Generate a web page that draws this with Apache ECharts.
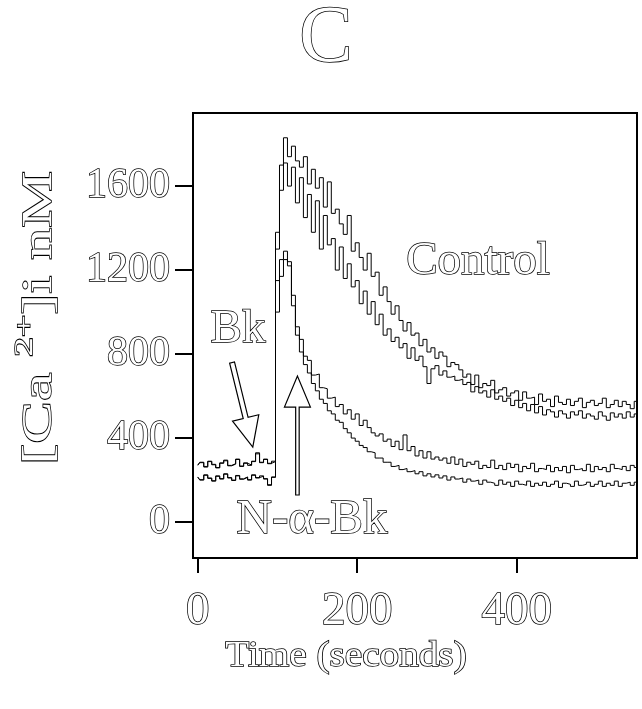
<!DOCTYPE html>
<html>
<head>
<meta charset="utf-8">
<script src="https://cdn.jsdelivr.net/npm/echarts@6/dist/echarts.min.js"></script>
<style>
html, body { margin: 0; padding: 0; background: #fff; }
#chart { width: 642px; height: 709px; }
</style>
</head>
<body>
<div id="chart"></div>
<script>
// Sampling times (s)
const seconds = [
  0, 5, 10, 15, 20, 25, 30, 35, 40, 45, 50, 55, 60, 65, 70, 75, 80, 85, 90, 95,
  100, 105, 110, 115, 120, 125, 130, 135, 140, 145, 150, 155, 160, 165, 170, 175, 180, 185, 190, 195,
  200, 205, 210, 215, 220, 225, 230, 235, 240, 245, 250, 255, 260, 265, 270, 275, 280, 285, 290, 295,
  300, 305, 310, 315, 320, 325, 330, 335, 340, 345, 350, 355, 360, 365, 370, 375, 380, 385, 390, 395,
  400, 405, 410, 415, 420, 425, 430, 435, 440, 445, 450, 455, 460, 465, 470, 475, 480, 485, 490, 495,
  500, 505, 510, 515, 520, 525, 530, 535, 540, 545, 550
];

// [Ca2+]i (nM), Bk alone (control), two recordings
const control1 = [
  270, 285, 262, 290, 275, 258, 280, 295, 268, 276, 300, 265, 282, 270, 290, 330, 285, 300, 278, 290,
  1380, 1700, 1830, 1740, 1790, 1720, 1690, 1740, 1610, 1680, 1590, 1640, 1500, 1620, 1470, 1490, 1420, 1370, 1460, 1290,
  1330, 1260, 1200, 1280, 1170, 1190, 1080, 1120, 1050, 990, 1030, 960, 910, 950, 890, 900, 840, 870, 810, 830,
  780, 810, 790, 740, 760, 750, 725, 690, 705, 655, 700, 640, 660, 650, 675, 615, 630, 640, 600, 615,
  625, 580, 620, 590, 595, 560, 610, 575, 585, 550, 600, 570, 560, 585, 555, 575, 590, 545, 570, 580,
  555, 565, 590, 545, 560, 580, 550, 575, 560, 540, 575
];
const control2 = [
  215, 200, 225, 210, 195, 220, 205, 230, 210, 198, 222, 206, 215, 200, 225, 210, 220, 205, 175, 215,
  1300, 1580, 1710, 1600, 1690, 1520, 1640, 1450, 1560, 1380, 1530, 1300, 1460, 1320, 1350, 1200, 1310, 1160, 1230, 1120,
  1150, 1040, 1100, 990, 1050, 940, 990, 890, 920, 860, 880, 830, 850, 780, 830, 770, 790, 740, 660, 730,
  745, 700, 720, 690, 695, 675, 680, 655, 665, 620, 645, 615, 625, 595, 630, 585, 600, 575, 590, 555,
  580, 545, 565, 530, 560, 520, 550, 510, 535, 525, 500, 530, 515, 495, 525, 510, 530, 495, 515, 505,
  490, 525, 505, 485, 520, 500, 515, 495, 525, 500, 515
];

// [Ca2+]i (nM), Bk followed by N-alpha-Bk, two recordings
const nAlpha1 = [
  272, 283, 265, 288, 273, 260, 282, 292, 270, 278, 298, 267, 280, 272, 288, 325, 283, 298, 280, 288,
  1150, 1250, 1290, 1240, 1080, 930, 870, 790, 770, 700, 705, 640, 635, 590, 595, 550, 560, 515, 535, 490,
  515, 460, 485, 450, 425, 410, 420, 385, 395, 360, 385, 345, 415, 340, 360, 315, 340, 305, 335, 300,
  310, 295, 305, 280, 310, 275, 300, 265, 285, 275, 290, 255, 270, 260, 295, 255, 270, 250, 280, 260,
  275, 240, 265, 255, 280, 240, 255, 250, 270, 240, 260, 245, 265, 235, 270, 250, 255, 245, 275, 240,
  265, 250, 260, 240, 275, 255, 250, 265, 245, 270, 260
];
const nAlpha2 = [
  213, 202, 223, 208, 197, 218, 207, 228, 212, 200, 220, 204, 213, 202, 223, 212, 218, 207, 178, 213,
  1000, 1170, 1250, 1220, 1030, 890, 810, 750, 710, 660, 625, 585, 565, 530, 515, 485, 475, 445, 425, 400,
  385, 365, 355, 335, 330, 305, 305, 285, 285, 265, 270, 250, 255, 240, 245, 230, 240, 220, 230, 215,
  225, 210, 220, 200, 215, 205, 210, 190, 205, 195, 200, 180, 200, 190, 185, 175, 200, 180, 190, 170,
  195, 180, 175, 195, 170, 185, 175, 190, 170, 180, 195, 165, 185, 180, 170, 195, 175, 180, 190, 170,
  180, 195, 170, 185, 175, 195, 170, 185, 190, 175, 190
];

const xTicks = [0, 200, 400];
const yTicks = [0, 400, 800, 1200, 1600];

// Arrow annotations: [tailTime, tailConc, tipTime, tipConc]
const arrowBk = [43, 760, 69, 357];
const arrowNAlpha = [125, 129, 125, 695];

const serif = '"Liberation Serif", "Times New Roman", "DejaVu Serif", serif';
const ink = '#000';
const outlineWidth = 1.5;

// Hollow ("outlined") text look used throughout the figure
function hollow(size) {
  return {
    fontFamily: serif,
    fontSize: size,
    color: '#fff',
    textBorderColor: ink,
    textBorderWidth: outlineWidth
  };
}

function outlinedText(text, x, y, size, extra) {
  return Object.assign({
    type: 'text', x: x, y: y,
    style: {
      text: text, font: size + 'px ' + serif,
      fill: '#fff', stroke: ink, lineWidth: outlineWidth,
      align: 'center', verticalAlign: 'middle'
    }
  }, extra || {});
}

function pairs(values) {
  return seconds.map((t, i) => [t, values[i]]);
}

function trace(name, values) {
  return {
    name: name,
    type: 'line',
    data: pairs(values),
    step: 'middle',
    showSymbol: false,
    silent: true,
    lineStyle: { color: ink, width: 1 },
    z: 3
  };
}

const arrowSizes = [
  { shaft: 5, head: 27, headLen: 30 },
  { shaft: 3.5, head: 26, headLen: 31 }
];

function renderArrow(params, api) {
  const tail = api.coord([api.value(0), api.value(1)]);
  const tip = api.coord([api.value(2), api.value(3)]);
  const s = arrowSizes[params.dataIndex];
  const dx = tip[0] - tail[0], dy = tip[1] - tail[1];
  const len = Math.sqrt(dx * dx + dy * dy);
  const ux = dx / len, uy = dy / len;
  const nx = -uy, ny = ux;
  const bx = tip[0] - ux * s.headLen, by = tip[1] - uy * s.headLen;
  const hs = s.shaft / 2, hh = s.head / 2;
  const pts = [
    [tail[0] + nx * hs, tail[1] + ny * hs],
    [bx + nx * hs, by + ny * hs],
    [bx + nx * hh, by + ny * hh],
    [tip[0], tip[1]],
    [bx - nx * hh, by - ny * hh],
    [bx - nx * hs, by - ny * hs],
    [tail[0] - nx * hs, tail[1] - ny * hs]
  ];
  return {
    type: 'polygon',
    shape: { points: pts },
    style: { fill: '#fff', stroke: ink, lineWidth: 1.2 }
  };
}

const chart = echarts.init(document.getElementById('chart'), null, { renderer: 'canvas' });

chart.setOption({
  animation: false,
  backgroundColor: '#fff',
  grid: {
    left: 193, right: 5, top: 113, bottom: 151,
    show: true, borderColor: ink, borderWidth: 2,
    containLabel: false, outerBoundsMode: 'none'
  },
  xAxis: {
    type: 'value',
    min: -6, max: 551,
    splitLine: { show: false },
    axisLine: { show: true, onZero: false, lineStyle: { color: ink, width: 2 } },
    axisTick: { show: true, customValues: xTicks, length: 15, lineStyle: { color: ink, width: 2 } },
    axisLabel: Object.assign({ customValues: xTicks, margin: 30, formatter: v => String(v) }, hollow(47))
  },
  yAxis: {
    type: 'value',
    min: -171, max: 1948,
    splitLine: { show: false },
    axisLine: { show: true, onZero: false, lineStyle: { color: ink, width: 2 } },
    axisTick: { show: true, customValues: yTicks, length: 18, lineStyle: { color: ink, width: 2 } },
    axisLabel: Object.assign({ customValues: yTicks, margin: 23, formatter: v => String(v) }, hollow(42))
  },
  graphic: [
    outlinedText('C', 326, 40, 80),
    {
      type: 'text', x: 40, y: 318, rotation: Math.PI / 2, scaleX: 1.52,
      style: {
        text: '[Ca {s|2+}]i nM',
        font: '42px ' + serif,
        fill: '#fff', stroke: ink, lineWidth: outlineWidth,
        align: 'center', verticalAlign: 'middle',
        rich: {
          s: { fontSize: 26, fontFamily: serif, fill: '#fff', stroke: ink, lineWidth: outlineWidth, padding: [0, 0, 30, 0] }
        }
      }
    },
    outlinedText('Time (seconds)', 346, 657, 35, { scaleX: 1.12 }),
    outlinedText('Bk', 238, 330, 47),
    outlinedText('Control', 478, 262, 47),
    outlinedText('N-α-Bk', 312, 520, 49)
  ],
  series: [
    trace('Control 1', control1),
    trace('Control 2', control2),
    trace('N-α-Bk 1', nAlpha1),
    trace('N-α-Bk 2', nAlpha2),
    {
      type: 'custom',
      name: 'arrows',
      coordinateSystem: 'cartesian2d',
      renderItem: renderArrow,
      encode: { x: [0, 2], y: [1, 3] },
      data: [arrowBk, arrowNAlpha],
      clip: false,
      silent: true,
      z: 5
    }
  ]
});
</script>
</body>
</html>
